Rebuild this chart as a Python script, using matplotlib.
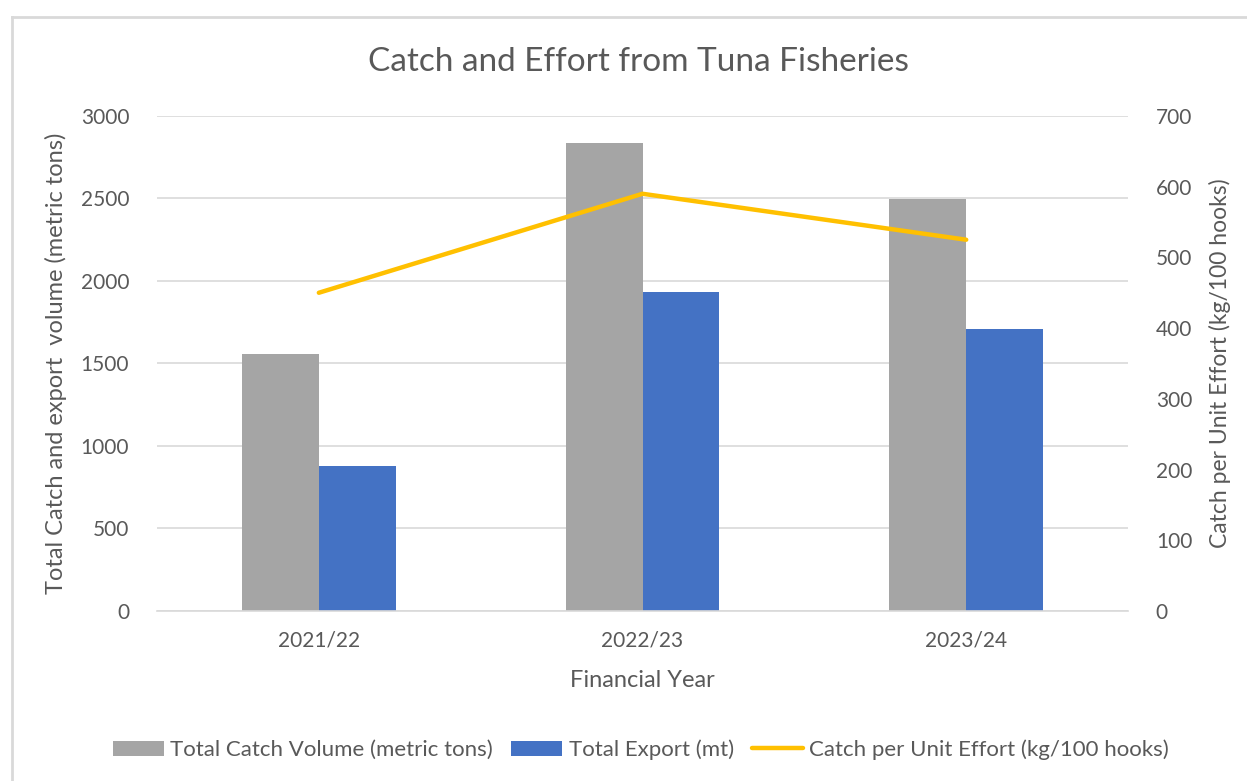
import matplotlib.pyplot as plt
import numpy as np
from matplotlib.lines import Line2D

# Data
years = ["2021/22", "2022/23", "2023/24"]
total_catch = [1557, 2836, 2497]      # metric tons
total_export = [879, 1933, 1709]      # mt
cpue = [450, 590, 525]                # kg/100 hooks
left_ticks = [0, 500, 1000, 1500, 2000, 2500, 3000]
right_ticks = [0, 100, 200, 300, 400, 500, 600, 700]

GRAY = "#a5a5a5"
BLUE = "#4472c4"
GOLD = "#ffc000"
TXT = "#595959"
GRID = "#d9d9d9"

def main():
    plt.rcParams['font.family'] = ['Lato', 'DejaVu Sans']

    fig = plt.figure(figsize=(12.47, 7.81), dpi=100)
    ax = fig.add_axes([0.1259, 0.2177, 0.9046 - 0.1259, 0.8515 - 0.2177])
    ax2 = ax.twinx()

    x = np.arange(len(years))
    w = 0.237
    ax.bar(x - w / 2, total_catch, w, color=GRAY, label="Total Catch Volume (metric tons)", zorder=2)
    ax.bar(x + w / 2, total_export, w, color=BLUE, label="Total Export (mt)", zorder=2)
    ax2.plot(x, cpue, color=GOLD, lw=3.2, solid_capstyle='round',
             label="Catch per Unit Effort (kg/100 hooks)")

    ax.set_xlim(-0.5, 2.5)
    ax.set_ylim(0, 3000)
    ax2.set_ylim(0, 700)
    ax.set_yticks(left_ticks)
    ax2.set_yticks(right_ticks)
    ax.set_xticks(x)
    ax.set_xticklabels(years)

    ax.grid(axis='y', color=GRID, lw=1.2, zorder=0)
    ax.set_axisbelow(True)
    for a in (ax, ax2):
        for s in a.spines.values():
            s.set_visible(False)
        a.tick_params(length=0, labelsize=15, colors=TXT)
    ax.spines['bottom'].set_visible(True)
    ax.spines['bottom'].set_color(GRID)
    ax.spines['bottom'].set_linewidth(1.2)
    ax.tick_params(axis='y', pad=20)
    ax.tick_params(axis='x', pad=14)
    ax2.tick_params(axis='y', pad=20)

    ax.set_xlabel("Financial Year", fontsize=17, color=TXT, labelpad=14)
    ax.set_ylabel("Total Catch and export  volume (metric tons)", fontsize=17, color=TXT, labelpad=10)
    ax2.set_ylabel("Catch per Unit Effort (kg/100 hooks)", fontsize=16.5, color=TXT, labelpad=12)

    fig.text(0.5116, 0.921, "Catch and Effort from Tuna Fisheries", ha='center', va='center',
             fontsize=24, color=TXT)

    h1, l1 = ax.get_legend_handles_labels()
    h2, l2 = ax2.get_legend_handles_labels()
    fig.legend(h1 + h2, l1 + l2, loc='center', bbox_to_anchor=(0.514, 0.04), ncol=3,
               frameon=False, fontsize=16, labelcolor=TXT, handlelength=2.3,
               handletextpad=0.3, columnspacing=0.8)

    # outer chart frame (top and left edges visible)
    fig.add_artist(Line2D([12 / 1247, 1], [1 - 17 / 781] * 2, transform=fig.transFigure,
                          color=GRID, lw=2))
    fig.add_artist(Line2D([12 / 1247] * 2, [0, 1 - 17 / 781], transform=fig.transFigure,
                          color=GRID, lw=2))

    fig.savefig("out.png", dpi=100)

if __name__ == "__main__":
    main()
